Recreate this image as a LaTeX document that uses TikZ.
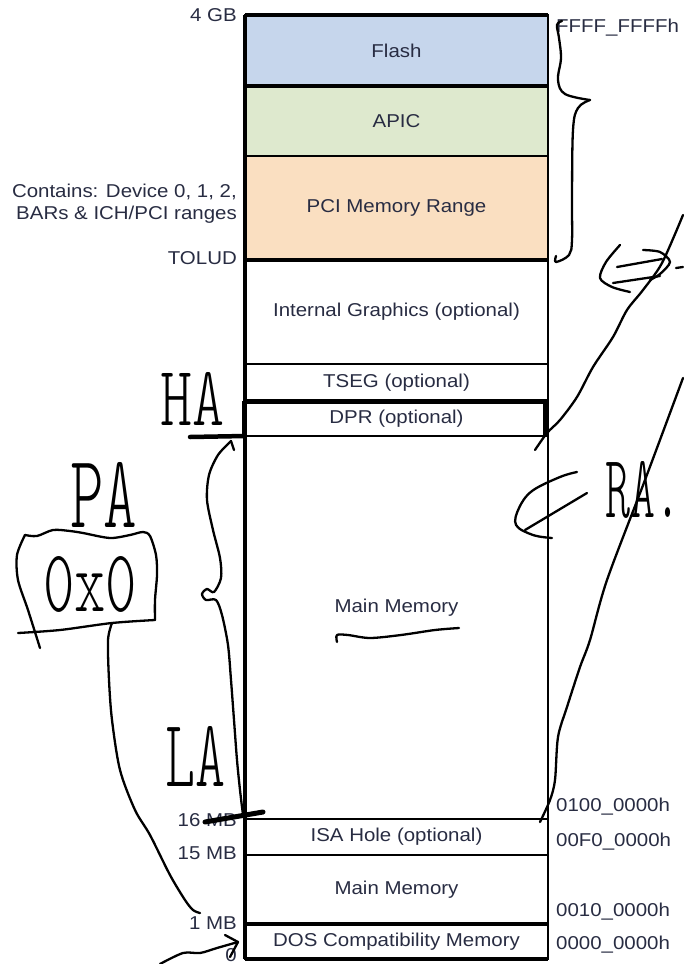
\documentclass[tikz,border=0pt]{standalone}
\usepackage{graphicx}
\usepackage{fontspec}
\setmainfont{Liberation Sans}[FakeStretch=1.1]
\newfontfamily\hand{lmmonolt10-regular.otf}
\newcommand{\mapfont}{\fontsize{18.6}{22}\selectfont}
\definecolor{txt}{RGB}{40,44,66}
\definecolor{flashc}{RGB}{198,214,236}
\definecolor{apicc}{RGB}{222,233,206}
\definecolor{pcic}{RGB}{250,223,193}
\begin{document}
\begin{tikzpicture}[x=1pt,y=-1pt,
  region/.style={draw=black, line width=2.5pt, minimum width=303pt, inner sep=0pt, outer sep=0pt, text=txt, font=\mapfont},
  lbl/.style={text=txt, font=\mapfont, inner sep=0pt},
  ink/.style={draw=black, line width=2.3pt, line cap=round, line join=round},
  hw/.style={inner sep=0pt, outer sep=0pt, text=black}]
\useasboundingbox (0,0) rectangle (683,964);

% memory regions
\node[region, fill=flashc, minimum height=71pt] (flash) at (396.5,50.5) {Flash};
\node[region, fill=apicc, minimum height=70pt] (apic) at (396.5,121) {APIC};
\node[region, fill=pcic, minimum height=104pt] (pci) at (396.5,208) {PCI Memory Range};
\node[region, minimum height=104pt] (igfx) at (396.5,312) {Internal Graphics (optional)};
\node[region, minimum height=37pt] (tseg) at (396.5,382.5) {TSEG (optional)};
\node[region, minimum height=35pt] (dpr) at (396.5,418.5) {DPR (optional)};
\node[region, minimum height=383pt] (main) at (396.5,627.5) {};
\node[lbl] (mainlbl) at (396.5,608) {Main Memory};
\node[region, minimum height=36pt] (isa) at (396.5,837) {ISA Hole (optional)};
\node[region, minimum height=69pt] (main2) at (396.5,889.5) {Main Memory};
\node[region, minimum height=35pt] (dos) at (396.5,941.5) {DOS Compatibility Memory};

% heavier borders
\draw[line width=3.5pt] (flash.north west) -- (flash.north east);
\draw[line width=3.5pt] (flash.south west) -- (flash.south east);
\draw[line width=4pt] (pci.south west) -- (pci.south east);
\draw[line width=5pt] (dpr.north west) -- (dpr.north east);
\draw[line width=4pt] (dos.north west) -- (dos.north east);
\draw[line width=3.5pt] (dos.south west) -- (dos.south east);
\draw[line width=4pt] (flash.north west) -- (dos.south west);
\draw[line width=4pt] ([xshift=-3pt]dpr.north east) -- ([xshift=-3pt]dpr.south east);
\draw[line width=2.5pt] ([xshift=-2pt]dpr.north west) -- ([xshift=-2pt]dpr.south west);

% left labels
\node[lbl, anchor=east] (l4gb) at (237,15) {4 GB};
\node[lbl, anchor=east, align=right] (lcont) at (237,204) {Contains: Device 0, 1, 2,\\BARs \& ICH/PCI ranges};
\node[lbl, anchor=east] (ltolud) at (237,258) {TOLUD};
\node[lbl, anchor=east] (l16) at (237,820) {16 MB};
\node[lbl, anchor=east] (l15) at (237,853) {15 MB};
\node[lbl, anchor=east] (l1) at (237,923) {1 MB};
\node[lbl, anchor=east] (l0) at (237,955) {0};

% right labels
\node[lbl, anchor=west] (rtop) at (556,28) {FFFF\_FFFFh};
\node[lbl, anchor=west] (r16) at (556,807) {0100\_0000h};
\node[lbl, anchor=west] (r15) at (556,842) {00F0\_0000h};
\node[lbl, anchor=west] (r1) at (556,912) {0010\_0000h};
\node[lbl, anchor=west] (r0) at (556,945) {0000\_0000h};

% handwritten texts
\node[hw, anchor=south west] (pa) at (70,527) {\resizebox{67pt}{65pt}{\hand PA}};
\node[hw, anchor=south west] (oxo) at (43,612) {\resizebox{94pt}{55pt}{\hand 0x0}};
\node[hw, anchor=south west] (ha) at (160,425) {\resizebox{64pt}{53pt}{\hand HA}};
\node[hw, anchor=south west] (la) at (165,786) {\resizebox{60pt}{60pt}{\hand LA}};
\node[hw, anchor=south west] (ra) at (605,518) {\resizebox{75pt}{56pt}{\hand RA.}};

% handwritten strokes
% right brace
\draw[ink] plot[smooth, tension=0.6] coordinates {(562,21)(557,25)(559,38)(561,58)(558,80)(565,94)(590,100)};
\draw[ink] plot[smooth, tension=0.6] coordinates {(590,100)(578,108)(573,130)(572,200)(572,240)(569,255)(556,262)(556,256)};
% <=> sign
\draw[ink] plot[smooth] coordinates {(620,245)(606,262)(600,278)(612,287)(630,292)};
\draw[ink] (617,267) -- (662,259);
\draw[ink] (613,283) -- (660,276);
\draw[ink] plot[smooth] coordinates {(643,250)(660,252)(670,262)(660,274)(650,280)};
\draw[ink] (676,268) -- (683,267);
% long line to DPR
\draw[ink] plot[smooth, tension=0.5] coordinates {(683,215)(662,263)(643,290)(627,310)(613,337)(593,367)(577,397)(560,420)(547,433)(535,450)};
% long line to ISA hole
\draw[ink] plot[smooth, tension=0.5] coordinates {(683,378)(645,480)(607,580)(590,640)(580,667)(567,707)(558,737)(555,780)(550,800)(540,822)};
% double arrow before RA
\draw[ink] plot[smooth, tension=0.6] coordinates {(577,472)(560,477)(532,491)(519,508)(516,525)(533,535)(552,538)};
\draw[ink] (587,493) -- (525,530);
% thick bars on left
\draw[line width=4.5pt, line cap=round] (190,437) -- (dpr.south west);
\draw[line width=5pt, line cap=round] (205,822) -- (263,812);
% left brace with arrow
\draw[ink] plot[smooth, tension=0.5] coordinates {(243,815)(240,790)(237,760)(234,720)(231,680)(228,645)(222,615)(216,600)(206,600)(202,594)(207,589)(214,592)(221,578)(220,558)(213,530)(207,500)(209,475)(218,455)(231,441)};
\draw[ink] (231,441) -- (234,450);
% PA box
\draw[ink] plot[smooth, tension=0.5] coordinates {(25,535)(37,536)(53,530)(70,531)(83,533)(110,538)(130,535)(143,532)(150,536)(156,555)(157,575)(155,600)(155,620)};
\draw[ink] plot[smooth, tension=0.5] coordinates {(25,535)(17,555)(18,580)(28,610)(40,648)};
\draw[ink] plot[smooth, tension=0.5] coordinates {(18,633)(60,630)(112,623)(155,620)};
% connector from box to 1 MB
\draw[ink] plot[smooth, tension=0.5] coordinates {(112,623)(108,640)(109,680)(112,720)(120,770)(135,810)(150,835)(170,875)(185,900)(193,910)(200,913)};
% arrow to DOS
\draw[ink] plot[smooth, tension=0.5] coordinates {(160,964)(183,953)(200,953)(217,948)(238,942)};
\draw[ink] (225,935) -- (238,942) -- (230,957);
% squiggle under Main Memory
\draw[ink] plot[smooth, tension=0.5] coordinates {(337,642)(337,635)(348,635)(370,638)(401,635)(435,630)(459,628)};
\end{tikzpicture}
\end{document}
